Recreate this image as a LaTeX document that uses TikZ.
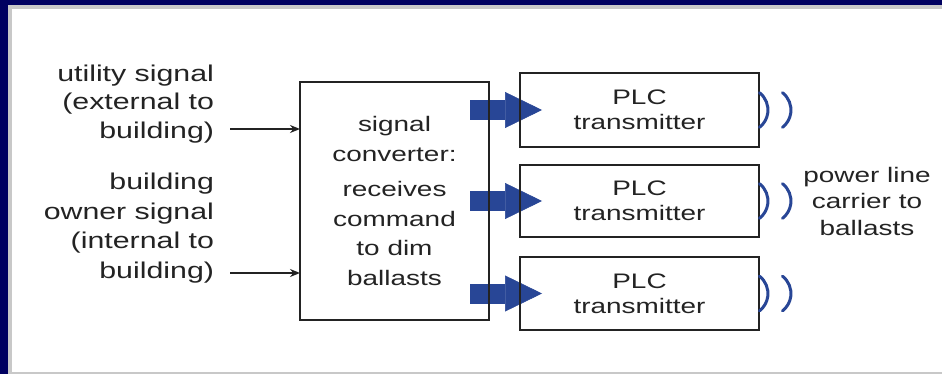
\documentclass[tikz,border=0pt]{standalone}
\usepackage{fontspec}
\setmainfont{Liberation Sans}
\newfontfamily\wide[FakeStretch=1.33]{Liberation Sans}
\usetikzlibrary{arrows.meta,calc}
\pgfdeclarelayer{frame}
\pgfdeclarelayer{under}
\pgfsetlayers{frame,under,main}
\definecolor{navy}{RGB}{0,0,96}
\definecolor{framegray}{RGB}{200,200,200}
\definecolor{plcblue}{RGB}{40,70,150}
\definecolor{ink}{RGB}{35,35,35}
\tikzset{
  box/.style={draw=ink, line width=2pt, outer sep=0pt, inner sep=0pt, align=center, text=ink},
  txt/.style={text=ink, inner sep=0pt, outer sep=0pt},
  sig/.style={draw=ink, line width=1.6pt, -{Stealth[length=10pt,width=8pt]}},
  feed/.style={draw=plcblue, line width=20pt, -{Triangle[length=37pt,width=36pt,line width=0.5pt]}},
  wave/.style={draw=plcblue, line width=3pt, line cap=round}
}
\begin{document}
\begin{tikzpicture}[x=1pt,y=-1pt]
    \useasboundingbox (0,0) rectangle (942,374);
    \begin{pgfonlayer}{frame}
        \fill[white] (0,0) rectangle (942,374);
        \fill[framegray] (8,5) rectangle (942,9);
        \fill[framegray] (8,5) rectangle (12,374);
        \fill[framegray] (8,372) rectangle (942,374);
        \fill[navy] (0,0) rectangle (942,5);
        \fill[navy] (0,0) rectangle (8,374);
    \end{pgfonlayer}
    % left inputs
    \node[txt, align=right, anchor=east, font=\wide\fontsize{22.8}{28.5}\selectfont] (util) at (214,104) {utility signal\\(external to\\building)};
    \node[txt, align=right, anchor=east, font=\wide\fontsize{22.8}{29.5}\selectfont] (owner) at (214,228) {building\\owner signal\\(internal to\\building)};
    \coordinate (utilin) at (230,129);
    \coordinate (ownerin) at (230,273);
    % converter and transmitters
    \node[box, minimum width=189pt, minimum height=238pt, font=\wide\fontsize{21}{29.5}\selectfont] (conv) at (394.5,201) {signal\\converter:\\[6pt]receives\\command\\to dim\\ballasts};
    \node[box, minimum width=239pt, minimum height=74pt, font=\wide\fontsize{21}{25}\selectfont] (plc1) at (639.5,110) {PLC\\transmitter};
    \node[box, minimum width=239pt, minimum height=72pt, font=\wide\fontsize{21}{25}\selectfont] (plc2) at (639.5,201) {PLC\\transmitter};
    \node[box, minimum width=239pt, minimum height=73pt, font=\wide\fontsize{21}{25}\selectfont] (plc3) at (639.5,293.5) {PLC\\transmitter};
    \node[txt, align=center, font=\wide\fontsize{21}{26.5}\selectfont] (carrier) at (867,201) {power line\\carrier to\\ballasts};
    \draw[sig] (utilin) -- (utilin -| conv.west);
    \draw[sig] (ownerin) -- (ownerin -| conv.west);
    \begin{pgfonlayer}{under}
        \foreach \p in {plc1,plc2,plc3}
            \draw[feed] ($(conv.east |- \p.west)+(-19,0)$) -- ($(\p.west)+(22,0)$);
    \end{pgfonlayer}
    \foreach \p in {plc1,plc2,plc3} {
        \draw[wave] ($(\p.east)+(0.5,-17.3)$) arc[start angle=-52, end angle=52, radius=22];
        \draw[wave] ($(\p.east)+(23.5,-17.3)$) arc[start angle=-52, end angle=52, radius=22];
    }
\end{tikzpicture}
\end{document}
